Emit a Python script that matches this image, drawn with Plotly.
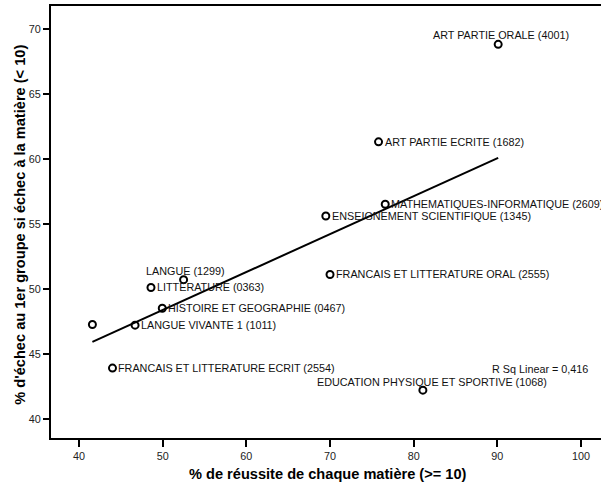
import numpy as np
import plotly.graph_objects as go

# ---- data ----
labels = [
    "ART PARTIE ORALE (4001)",
    "ART PARTIE ECRITE (1682)",
    "MATHEMATIQUES-INFORMATIQUE (2609)",
    "ENSEIGNEMENT SCIENTIFIQUE (1345)",
    "FRANCAIS ET LITTERATURE ORAL (2555)",
    "LANGUE (1299)",
    "LITTERATURE (0363)",
    "HISTOIRE ET GEOGRAPHIE (0467)",
    "LANGUE VIVANTE 1 (1011)",
    "",
    "FRANCAIS ET LITTERATURE ECRIT (2554)",
    "EDUCATION PHYSIQUE ET SPORTIVE (1068)",
]
reussite = [90.1, 75.8, 76.6, 69.5, 70.0, 52.5, 48.6, 49.95, 46.7, 41.6, 44.0, 81.1]
echec = [68.8, 61.3, 56.5, 55.6, 51.1, 50.7, 50.1, 48.5, 47.2, 47.25, 43.9, 42.2]

x_ticks = [40, 50, 60, 70, 80, 90, 100]
y_ticks = [40, 45, 50, 55, 60, 65, 70]

x_title = "% de réussite de chaque matière (>= 10)"
y_title = "% d'échec au 1er groupe si échec à la matière (< 10)"

# label placement styles: (xanchor, xshift, yshift)
label_style = [
    ("center", 3, 9),
    ("left", 5, 0),
    ("left", 5, 0),
    ("left", 5, 0),
    ("left", 5, 0),
    ("center", 2, 9),
    ("left", 5, 0),
    ("left", 5, 0),
    ("left", 5, 0),
    ("left", 5, 0),
    ("left", 5, 0),
    ("center", 9, 8),
]

FONT = "Arial, Liberation Sans, sans-serif"

# linear fit
xs = np.array(reussite)
ys = np.array(echec)
slope, intercept = np.polyfit(xs, ys, 1)
r2 = np.corrcoef(xs, ys)[0, 1] ** 2
xfit = np.linspace(xs.min(), xs.max(), 50)
yfit = slope * xfit + intercept

fig = go.Figure()
fig.add_trace(go.Scatter(
    x=xfit, y=yfit, mode="lines",
    line=dict(color="black", width=2), hoverinfo="skip", showlegend=False,
))
fig.add_trace(go.Scatter(
    x=reussite, y=echec, mode="markers",
    marker=dict(symbol="circle-open", size=7, color="black", line=dict(width=2, color="black")),
    showlegend=False,
))

annotations = []
for lab, xv, yv, (xa, xs_, ys_) in zip(labels, reussite, echec, label_style):
    if not lab:
        continue
    annotations.append(dict(
        x=xv, y=yv, xref="x", yref="y", text=lab, showarrow=False,
        xanchor=xa, yanchor="middle", xshift=xs_, yshift=ys_,
        font=dict(family=FONT, size=10.8, color="#111111"), borderpad=0,
    ))

annotations.append(dict(
    x=0.978, y=43.8, xref="paper", yref="y",
    text="R Sq Linear = " + f"{r2:.3f}".replace(".", ","),
    showarrow=False, xanchor="right", yanchor="middle",
    font=dict(family=FONT, size=10.8, color="#111111"), borderpad=0,
))
annotations.append(dict(
    x=0.504, y=-0.083, xref="paper", yref="paper",
    text=x_title, showarrow=False, xanchor="center", yanchor="middle",
    font=dict(family=FONT, size=14.6, color="black", weight="bold"),
))
annotations.append(dict(
    x=-0.058, y=0.494, xref="paper", yref="paper", textangle=-90,
    text=y_title, showarrow=False, xanchor="center", yanchor="middle",
    font=dict(family=FONT, size=14.6, color="black", weight="bold"),
))

fig.update_layout(
    width=601, height=484,
    margin=dict(l=51, r=0, t=6, b=46),
    paper_bgcolor="white", plot_bgcolor="white",
    font=dict(family=FONT, color="#222222"),
    annotations=annotations,
    xaxis=dict(
        range=[36.65, 102.39], tickvals=x_ticks, ticktext=[str(v) for v in x_ticks],
        showgrid=False, zeroline=False, showline=True, linecolor="black", linewidth=2,
        mirror=True, ticks="outside", ticklen=7, tickwidth=2, tickcolor="black",
        tickfont=dict(family=FONT, size=10.8, color="#222222"),
    ),
    yaxis=dict(
        range=[38.52, 71.75], tickvals=y_ticks, ticktext=[str(v) for v in y_ticks],
        showgrid=False, zeroline=False, showline=True, linecolor="black", linewidth=2,
        ticks="outside", ticklen=6, tickwidth=2, tickcolor="black",
        tickfont=dict(family=FONT, size=10.8, color="#222222"),
    ),
)

fig.write_html(
    "out.html",
    config={"displayModeBar": False},
    post_script="document.body.style.margin='0';",
)
